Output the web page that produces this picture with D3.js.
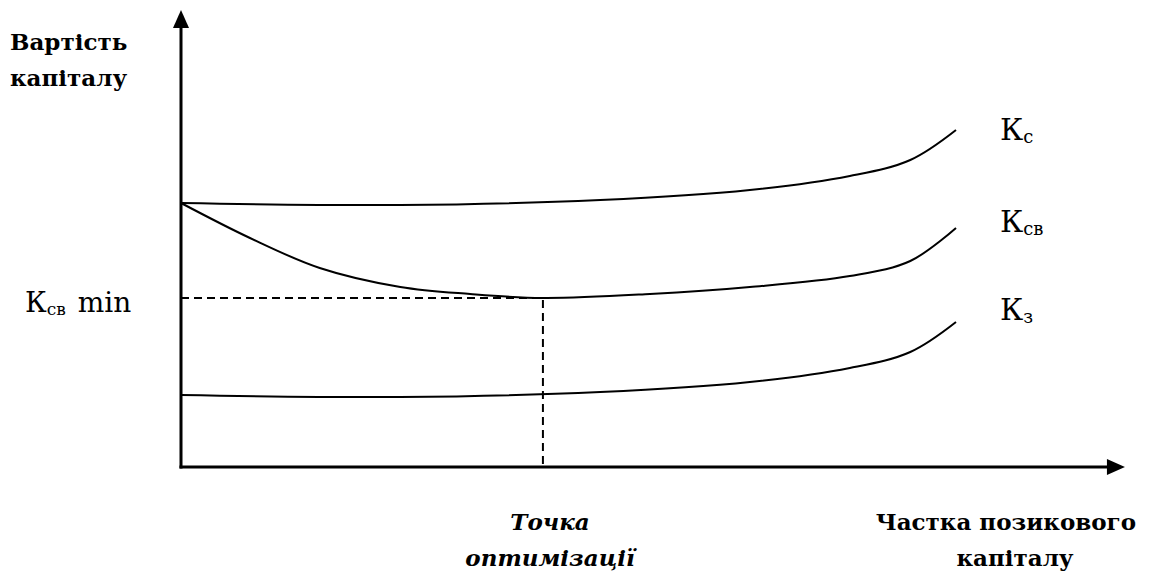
<!DOCTYPE html>
<html>
<head>
<meta charset="utf-8">
<script src="https://cdn.jsdelivr.net/npm/d3@7"></script>
<style>
  html, body { margin: 0; padding: 0; background: #fff; }
  svg { display: block; }
</style>
</head>
<body>
<svg id="chart" width="1150" height="576"></svg>
<script>
// ---- data (share of borrowed capital, cost of capital; arbitrary units) ----
const kcX  = [0, 28.3, 54.1, 73.4, 86.3, 94.1, 100];
const kcY  = [66, 65.5, 66.75, 69.25, 72.75, 76.75, 84.25];

const ksvX = [0, 8.9, 17.9, 28.3, 37.3, 46.7, 60.5, 73.4, 86.3, 94.1, 100];
const ksvY = [66, 57.25, 49.75, 45, 43.25, 42.25, 43.25, 45, 47.75, 51.5, 59.75];

const kzX  = [0, 28.3, 54.1, 73.4, 86.3, 94.1, 100];
const kzY  = [18, 17.5, 18.75, 21.25, 24.75, 28.75, 36.25];

const optX = 46.7;      // optimisation point
const optY = 42.25;     // min weighted cost
const xAxisMax = 121.8;
const yAxisMax = 114.25;

// ---- scales ----
const x = d3.scaleLinear().domain([0, 100]).range([181, 956]);
const y = d3.scaleLinear().domain([0, 100]).range([467, 67]);

const svg = d3.select("#chart");

// axes
const x0 = x(0), y0 = y(0);
const xEnd = x(xAxisMax), yEnd = y(yAxisMax);
svg.append("line").attr("x1", x0).attr("y1", y0 + 1.5).attr("x2", x0).attr("y2", yEnd + 16)
  .attr("stroke", "#000").attr("stroke-width", 3);
svg.append("path").attr("d", `M${x0},${yEnd} L${x0 - 8},${yEnd + 18} L${x0 + 8},${yEnd + 18} Z`).attr("fill", "#000");
svg.append("line").attr("x1", x0 - 1.5).attr("y1", y0).attr("x2", xEnd - 16).attr("y2", y0)
  .attr("stroke", "#000").attr("stroke-width", 3);
svg.append("path").attr("d", `M${xEnd},${y0} L${xEnd - 18},${y0 - 8} L${xEnd - 18},${y0 + 8} Z`).attr("fill", "#000");

// dashed guide lines
svg.append("path")
  .attr("d", `M${x0},${y(optY)} L${x(optX)},${y(optY)} L${x(optX)},${y0}`)
  .attr("fill", "none").attr("stroke", "#000").attr("stroke-width", 2)
  .attr("stroke-dasharray", "8,5");

// curves
const line = d3.line().x(d => x(d[0])).y(d => y(d[1])).curve(d3.curveCatmullRom.alpha(0.5));
[[kcX, kcY], [ksvX, ksvY], [kzX, kzY]].forEach(([xs, ys]) => {
  svg.append("path").datum(xs.map((v, i) => [v, ys[i]]))
    .attr("d", line).attr("fill", "none").attr("stroke", "#000").attr("stroke-width", 2);
});

// labels (serif)
const FONT = "DejaVu Serif";
function label(tx, ty, main, sub, size) {
  const t = svg.append("text").attr("x", tx).attr("y", ty)
    .style("font-family", FONT).style("font-size", size + "px")
    .style("font-weight", "normal").style("font-style", "normal").style("fill", "#000");
  t.append("tspan").text(main);
  if (sub) t.append("tspan").style("font-size", Math.round(size * 0.6) + "px").attr("dy", 3).text(sub);
  return t;
}
label(1000, 140, "К", "с", 30);
label(1000, 232, "К", "св", 30);
label(1000, 320, "К", "з", 30);
const mn = label(25, 312, "К", "св", 28);
mn.append("tspan").attr("dy", -3).attr("dx", 12).text("min");

function txt(tx, ty, s, anchor, italic) {
  svg.append("text").attr("x", tx).attr("y", ty)
    .style("font-family", FONT).style("font-weight", "bold")
    .style("font-style", italic ? "italic" : "normal")
    .style("font-size", "23px").style("fill", "#000")
    .attr("text-anchor", anchor || "start").text(s);
}
txt(10, 50, "Вартість");
txt(10, 86, "капіталу");
txt(550, 530, "Точка", "middle", true);
txt(550, 566, "оптимізації", "middle", true);
txt(1136, 530, "Частка позикового", "end");
txt(1015, 566, "капіталу", "middle");
</script>
</body>
</html>
